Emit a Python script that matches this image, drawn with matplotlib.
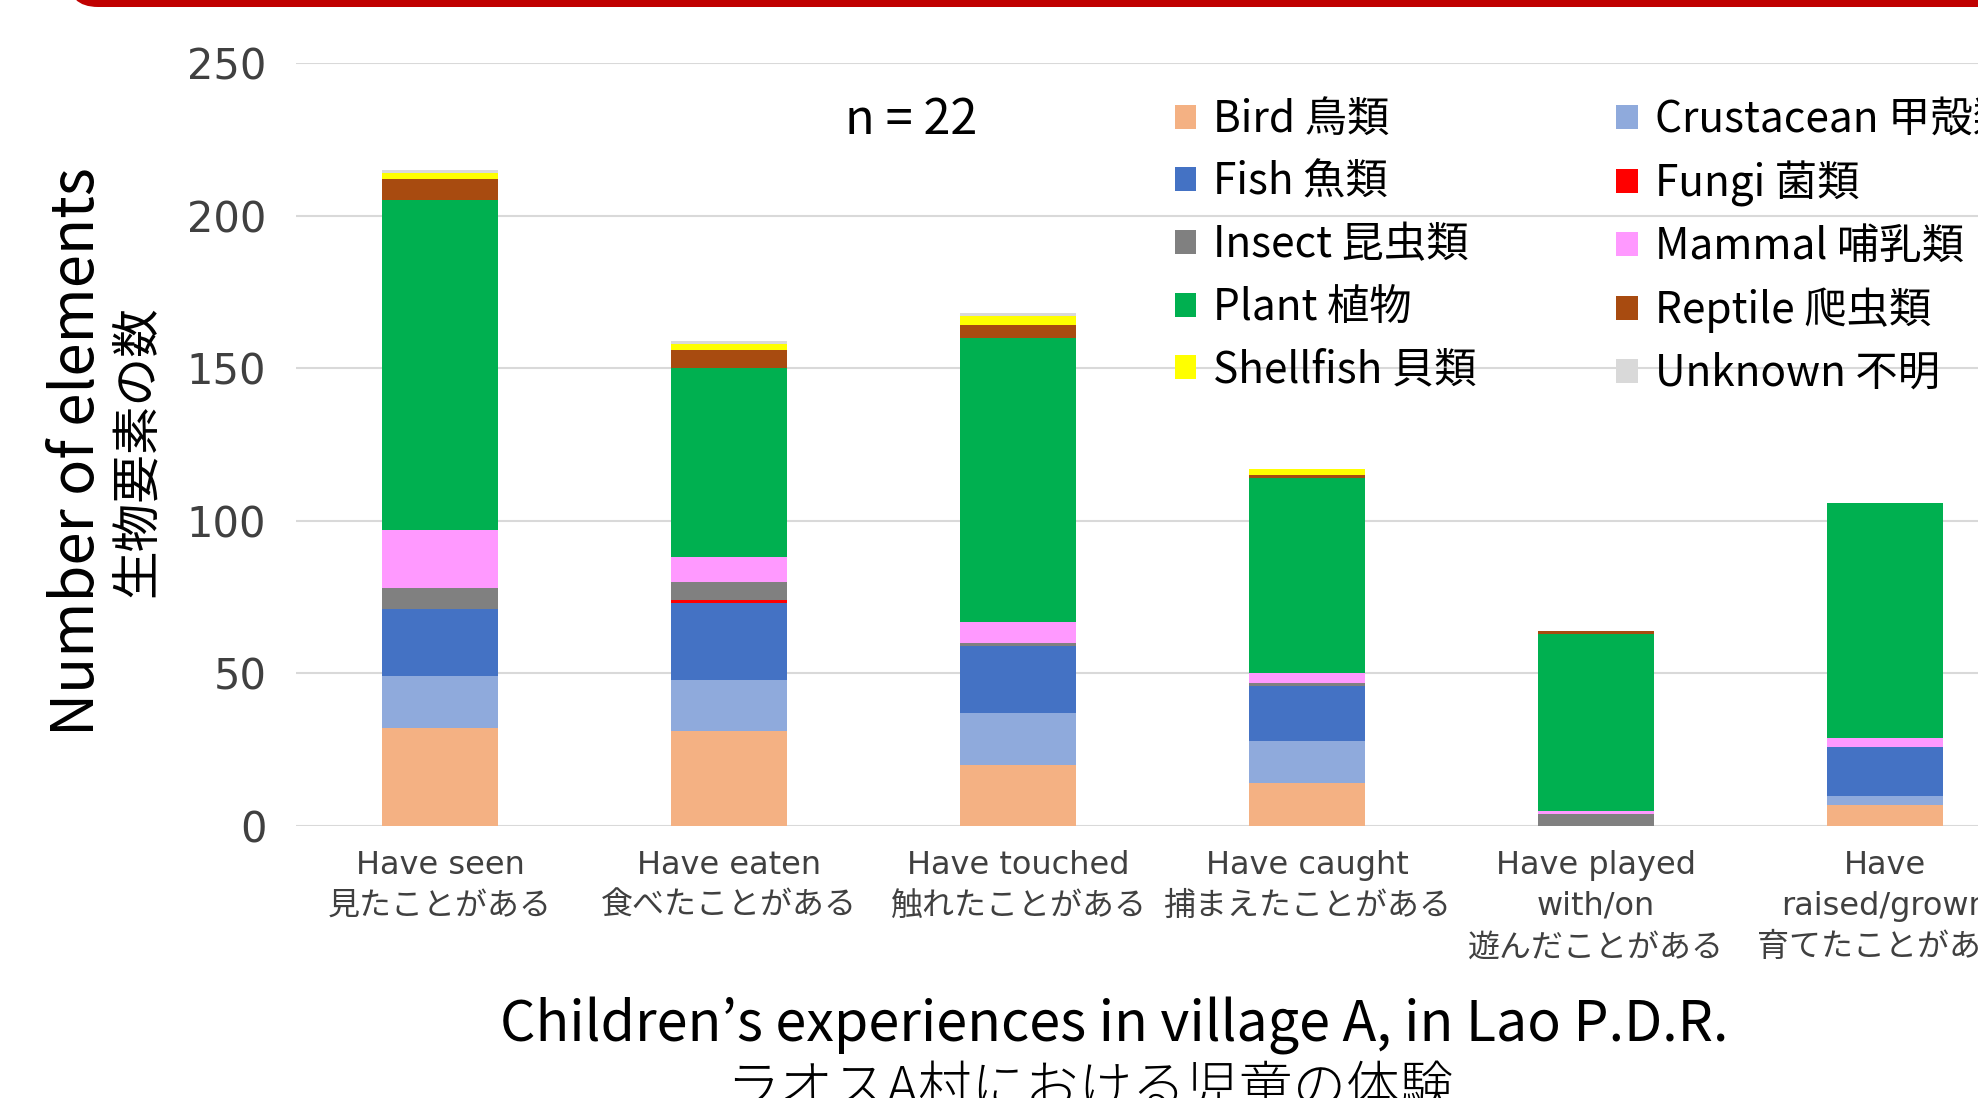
import matplotlib
import numpy as np

matplotlib.use('Agg')
from matplotlib import pyplot as plt
from matplotlib.patches import Patch, FancyBboxPatch

# categories (x axis)
categories = ['Have seen\n見たことがある',
              'Have eaten\n食べたことがある',
              'Have touched\n触れたことがある',
              'Have caught\n捕まえたことがある',
              'Have played\nwith/on\n遊んだことがある',
              'Have\nraised/grown\n育てたことがある']

# stacked series, bottom to top
bird = [32, 31, 20, 14, 0, 7]
crustacean = [17, 17, 17, 14, 0, 3]
fish = [22, 25, 22, 18, 0, 16]
fungi = [0, 1, 0, 0, 0, 0]
insect = [7, 6, 1, 1, 4, 0]
mammal = [19, 8, 7, 3, 1, 3]
plant = [108, 62, 93, 64, 58, 77]
reptile = [7, 6, 4, 1, 1, 0]
shellfish = [2, 2, 3, 2, 0, 0]
unknown = [1, 1, 1, 0, 0, 0]

series_names = ['Bird 鳥類', 'Crustacean 甲殻類', 'Fish 魚類', 'Fungi 菌類', 'Insect 昆虫類',
                'Mammal 哺乳類', 'Plant 植物', 'Reptile 爬虫類', 'Shellfish 貝類', 'Unknown 不明']
series_values = [bird, crustacean, fish, fungi, insect, mammal, plant, reptile, shellfish, unknown]
series_colors = ['#F4B183', '#8FAADC', '#4472C4', '#FF0000', '#808080',
                 '#FF99FF', '#00B050', '#A84B10', '#FFFF00', '#D9D9D9']

yticks = [0, 50, 100, 150, 200, 250]

JP = ['Noto Sans CJK JP', 'DejaVu Sans']
MIXED = ['DejaVu Sans', 'Noto Sans CJK JP']

fig = plt.figure(figsize=(19.78, 10.98), dpi=100)
# axes runs past the right edge, like the cropped slide
ax = fig.add_axes([0.1494, 0.2477, 0.8766, 0.6949])

x = np.arange(len(categories))
bottom = np.zeros(len(categories))
for name, vals, col in zip(series_names, series_values, series_colors):
    vals = np.asarray(vals, dtype=float)
    ax.bar(x, vals, 0.4, bottom=bottom, color=col, linewidth=0, label=name)
    bottom += vals

ax.set_xlim(-0.5, 5.5)
ax.set_ylim(0, 250)
ax.set_yticks(yticks)
ax.set_axisbelow(True)
ax.grid(axis='y', color='#D9D9D9', linewidth=1.5)
for s in ax.spines.values():
    s.set_visible(False)
ax.tick_params(axis='y', length=0, pad=21, labelsize=30, labelcolor='#404040')
ax.set_xticks(x)
ax.set_xticklabels(categories, fontsize=23, family=MIXED, color='#404040', linespacing=1.43)
ax.tick_params(axis='x', length=0, pad=17)

# two-line y label
fig.text(78 / 1978, 1 - 452 / 1098, 'Number of elements', rotation=90, ha='center', va='center',
         fontsize=43, family=JP)
fig.text(137 / 1978, 1 - 451 / 1098, '生物要素の数', rotation=90, ha='center', va='center',
         fontsize=35, family=JP)

fig.text(911 / 1978, 1 - 120 / 1098, 'n = 22', ha='center', va='center', fontsize=35, family=JP)

# legend, column-major like the original
order = [0, 2, 4, 6, 8, 1, 3, 5, 7, 9]
handles = [Patch(facecolor=series_colors[i], edgecolor='none') for i in order]
labels = [series_names[i] for i in order]
fig.legend(handles, labels, ncol=2, loc='upper left', bbox_to_anchor=(1175 / 1978, 0.911),
           frameon=False, prop={'family': JP, 'size': 30.5}, handlelength=0.5, handleheight=0.5,
           handletextpad=0.4, columnspacing=3.3, labelspacing=0.44, borderpad=0, borderaxespad=0)

# caption under the chart
fig.text(1114 / 1978, 1 - 1026 / 1098, 'Children’s experiences in village A, in Lao P.D.R.',
         ha='center', va='center', fontsize=40, family=JP)
fig.text(1090 / 1978, 1 - 1090 / 1098, 'ラオスA村における児童の体験',
         ha='center', va='center', fontsize=38.5, family=JP, fontweight='light')

# red slide header strip
header = FancyBboxPatch((0.68, 10.91), 21, 1, boxstyle='round,pad=0,rounding_size=0.3',
                        transform=fig.dpi_scale_trans, facecolor='#C00000', edgecolor='none')
fig.patches.append(header)

fig.savefig('out.png', dpi=100)
